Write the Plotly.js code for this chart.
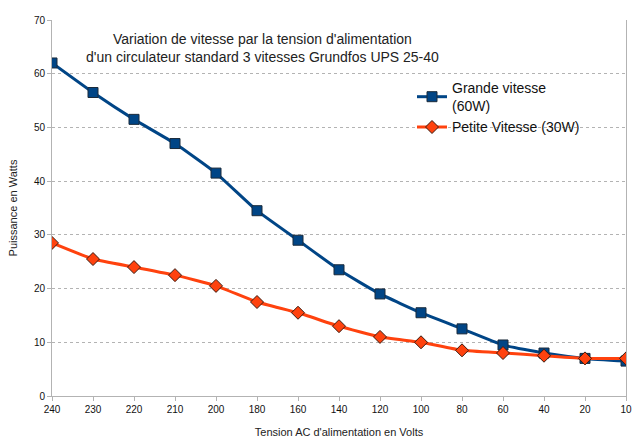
<!DOCTYPE html>
<html>
<head>
<meta charset="utf-8">
<script src="https://cdn.plot.ly/plotly-3.0.1.min.js"></script>
<style>
  html, body { margin: 0; padding: 0; background: #fff; }
  #chart { width: 640px; height: 447px; }
</style>
</head>
<body>
<div id="chart"></div>
<script>
// === Données ===
const tensions = ['240', '230', '220', '210', '200', '180', '160', '140', '120', '100', '80', '60', '40', '20', '10'];
const grandeVitesse = [62, 56.5, 51.5, 47, 41.5, 34.5, 29, 23.5, 19, 15.5, 12.5, 9.5, 8, 7, 6.5];
const petiteVitesse = [28.5, 25.5, 24, 22.5, 20.5, 17.5, 15.5, 13, 11, 10, 8.5, 8, 7.5, 7, 7];
const titre = "Variation de vitesse par la tension d'alimentation<br>d'un circulateur standard 3 vitesses Grundfos UPS 25-40";

const traceGrande = {
  x: tensions,
  y: grandeVitesse,
  name: 'Grande vitesse<br>(60W)',
  mode: 'lines+markers',
  type: 'scatter',
  line: { color: '#004586', width: 3, shape: 'spline', smoothing: 0.4 },
  marker: { symbol: 'square', size: 10, color: '#004586', line: { color: '#1a2a3a', width: 1 } }
};

const tracePetite = {
  x: tensions,
  y: petiteVitesse,
  name: 'Petite Vitesse (30W)',
  mode: 'lines+markers',
  type: 'scatter',
  line: { color: '#ff420e', width: 3, shape: 'spline', smoothing: 0.4 },
  marker: { symbol: 'diamond', size: 10, color: '#ff420e', line: { color: '#3a1a10', width: 1 } }
};

const layout = {
  width: 640,
  height: 447,
  margin: { l: 52, r: 14, t: 20, b: 51 },
  paper_bgcolor: '#ffffff',
  plot_bgcolor: '#ffffff',
  font: { family: 'Liberation Sans, Arial, sans-serif', size: 11, color: '#222' },
  // titre dans la zone du graphique
  annotations: [{
    text: titre,
    xref: 'paper',
    yref: 'paper',
    x: (262 - 52) / 574,
    y: (396 - 29) / 376,
    xanchor: 'center',
    yanchor: 'top',
    showarrow: false,
    font: { size: 14, color: '#222' }
  }],
  xaxis: {
    type: 'category',
    title: { text: "Tension AC d'alimentation en Volts", font: { size: 11, color: '#222' }, standoff: 14 },
    range: [0, 14],
    showgrid: false,
    showline: true,
    linecolor: '#b3b3b3',
    ticks: 'outside',
    ticklen: 4,
    tickcolor: '#b3b3b3',
    mirror: false,
    tickfont: { size: 10, color: '#111' },
    zeroline: false
  },
  yaxis: {
    title: { text: 'Puissance en Watts', font: { size: 11, color: '#222' }, standoff: 14 },
    range: [0, 70],
    dtick: 10,
    showgrid: true,
    gridcolor: '#b3b3b3',
    griddash: 'dot',
    gridwidth: 1,
    showline: true,
    linecolor: '#b3b3b3',
    mirror: true,
    ticks: 'outside',
    ticklen: 4,
    tickcolor: '#b3b3b3',
    tickfont: { size: 10, color: '#111' },
    zeroline: false
  },
  showlegend: true,
  legend: {
    x: (412 - 52) / 574,
    xanchor: 'left',
    y: (396 - 72) / 376,
    yanchor: 'top',
    bgcolor: 'rgba(0,0,0,0)',
    font: { size: 14, color: '#111' },
    itemwidth: 30,
    tracegroupgap: 4
  }
};

Plotly.newPlot('chart', [traceGrande, tracePetite], layout, { displayModeBar: false, staticPlot: true });
</script>
</body>
</html>
